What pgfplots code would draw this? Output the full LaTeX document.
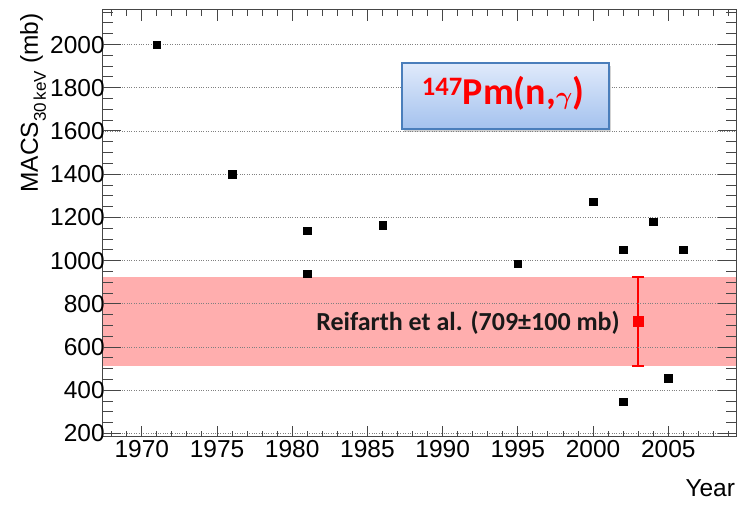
\documentclass[border=0pt]{standalone}
\usepackage{pgfplots}
\pgfplotsset{compat=1.18}
\usepackage{fontspec}
\setmainfont{Liberation Sans}
\newfontfamily\carlito{Carlito}
\usetikzlibrary{shadows}
\definecolor{bandpink}{RGB}{255,174,174}
\definecolor{framegray}{RGB}{70,70,70}
\definecolor{boxborder}{RGB}{74,126,187}
\definecolor{boxtop}{RGB}{224,234,251}
\definecolor{boxbot}{RGB}{164,194,238}
\begin{document}
\begin{tikzpicture}
\begin{axis}[
  scale only axis, width=633.3pt, height=426.7pt,
  xmin=1967.4, xmax=2009.5, ymin=185, ymax=2160,
  xtick={1970,1975,...,2005},
  ytick={200,400,...,2000},
  major tick length=0pt,
  axis on top,
  axis line style={framegray, line width=1pt},
  ymajorgrids,
  major grid style={dotted, gray, line width=0.8pt},
  ticklabel style={font=\fontsize{24.5}{28}\selectfont},
  /pgf/number format/assume math mode=true,
  /pgf/number format/1000 sep={},
  yticklabel style={xshift=5.5pt},
  xlabel={Year},
  xlabel style={at={(axis description cs:1.004,-0.141)}, anchor=base east, font=\fontsize{24.5}{28}\selectfont},
  ylabel={MACS\raisebox{-0.32em}{\fontsize{17}{17}\selectfont 30\,keV} (mb)},
  ylabel style={at={(axis description cs:-0.1022,1)}, anchor=base east, font=\fontsize{24.5}{28}\selectfont},
]
\addplot[fill=bandpink, draw=none, forget plot] coordinates {(1967.4,512) (2009.5,512) (2009.5,925) (1967.4,925)} -- cycle;
\addplot[only marks, mark=square*, mark size=3.7pt, black] coordinates {
 (1971,2000) (1976,1400) (1981,1138) (1981,940) (1986,1164) (1995,985)
 (2000,1272) (2002,1050) (2002,347) (2004,1180) (2005,455) (2006,1050)};
\addplot[red, only marks, mark=square*, mark size=5pt,
  error bars/.cd, y dir=both, y explicit,
  error bar style={line width=2pt, red},
  error mark options={rotate=90, mark size=6pt, line width=2pt, red}]
  coordinates {(2003,720) += (0,205) -= (0,208)};
\end{axis}
% tick marks (inside, on all four sides)
\foreach \yr in {1968,...,2009}{
  \pgfmathsetmacro\xx{(\yr-1967.4)*15.04276}
  \pgfmathsetmacro\len{mod(\yr,5)==0 ? 11 : 6}
  \draw[framegray, line width=1pt] ({\xx pt},0pt) -- ({\xx pt},{\len pt});
  \draw[framegray, line width=1pt] ({\xx pt},426.7pt) -- ({\xx pt},{(426.7-\len)*1pt});
}
\foreach \v in {200,250,...,2150}{
  \pgfmathsetmacro\yy{(\v-185)*0.216051}
  \pgfmathsetmacro\len{mod(\v,200)==0 ? 18 : 10}
  \draw[framegray, line width=1pt] (0pt,{\yy pt}) -- ({\len pt},{\yy pt});
  \draw[framegray, line width=1pt] (633.3pt,{\yy pt}) -- ({(633.3-\len)*1pt},{\yy pt});
}
\draw[drop shadow={shadow xshift=2pt, shadow yshift=-3pt, opacity=0.35},
      top color=boxtop, bottom color=boxbot, draw=boxborder, line width=1.2pt]
  (299.3pt,307.7pt) rectangle (506.3pt,373.7pt);
\node[anchor=base, text=red, inner sep=0pt] at (400.3pt,331.7pt)
  {\carlito\bfseries\fontsize{38}{40}\selectfont\textsuperscript{147}Pm(n,{\boldmath$\gamma$})};
\node[anchor=base, text=black!90, inner sep=0pt] at (365.3pt,106.7pt)
  {\carlito\bfseries\fontsize{26}{28}\selectfont Reifarth et al. (709±100 mb)};
\path (-102.7pt,-67.3pt) rectangle (638.3pt,436.7pt);
\end{tikzpicture}
\end{document}
